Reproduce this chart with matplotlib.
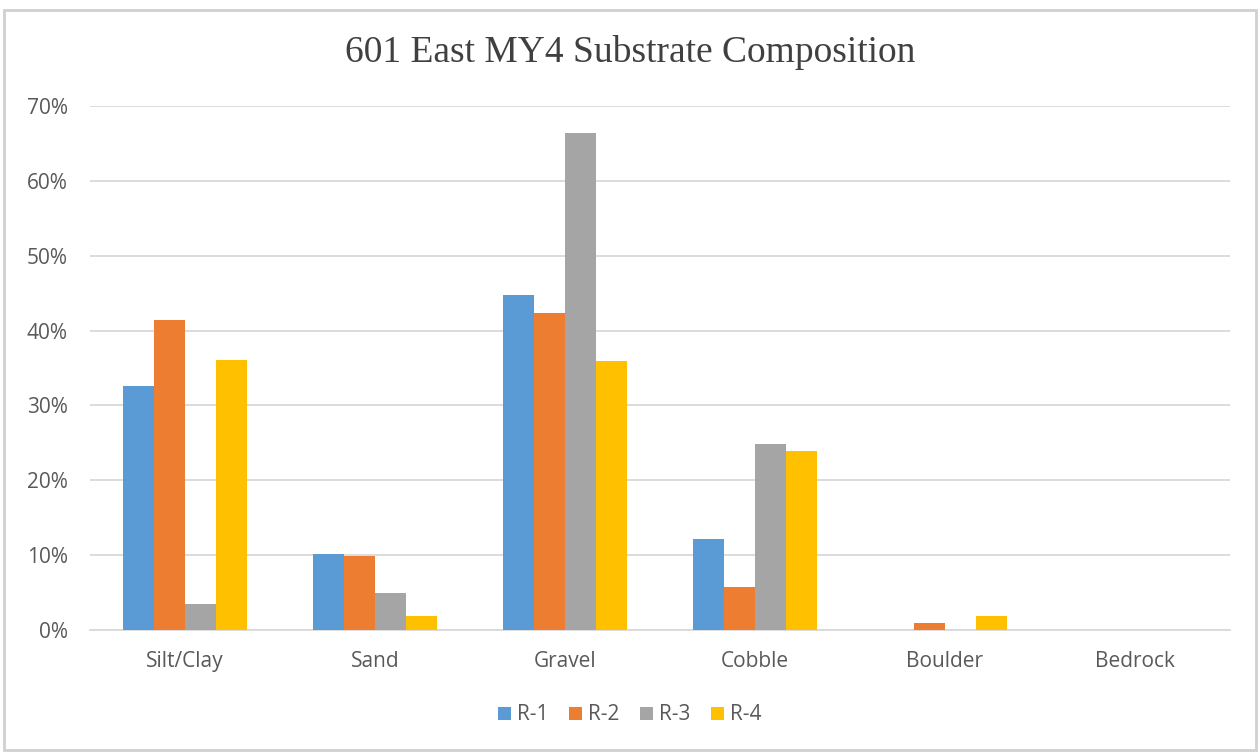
import numpy as np
import matplotlib
matplotlib.use('Agg')
import matplotlib.pyplot as plt
from matplotlib.patches import Rectangle
from matplotlib.ticker import FuncFormatter

categories = ['Silt/Clay', 'Sand', 'Gravel', 'Cobble', 'Boulder', 'Bedrock']
series_names = ['R-1', 'R-2', 'R-3', 'R-4']
r1 = [32.6, 10.2, 44.8, 12.1, 0.0, 0.0]
r2 = [41.4, 9.9, 42.4, 5.8, 1.0, 0.0]
r3 = [3.5, 5.0, 66.4, 24.8, 0.0, 0.0]
r4 = [36.1, 1.9, 36.0, 23.9, 1.9, 0.0]
colors = ['#5B9BD5', '#ED7D31', '#A5A5A5', '#FFC000']

fig = plt.figure(figsize=(12.6, 7.54), dpi=100)
ax = fig.add_axes([90 / 1260, 1 - 630 / 754, 1140 / 1260, 524 / 754])

# thin gray frame around the whole chart
fig.patches.append(Rectangle((4 / 1260, 0.005), 1 - 8 / 1260, 1 - 14 / 754,
                             transform=fig.transFigure, fill=False,
                             edgecolor='#d0d0d0', linewidth=2))

x = np.arange(len(categories))
w = 0.1625
for i, (vals, name) in enumerate(zip([r1, r2, r3, r4], series_names)):
    ax.bar(x + (i - 1.5) * w, vals, width=w, color=colors[i], label=name, zorder=3)

ax.set_xlim(-0.5, len(categories) - 0.5)
ax.set_ylim(0, 70)
ax.set_yticks(range(0, 71, 10))
ax.yaxis.set_major_formatter(FuncFormatter(lambda v, p: f'{int(v)}%'))
ax.set_xticks(x)
ax.set_xticklabels(categories)
ax.grid(axis='y', color='#d9d9d9', linewidth=1.3, zorder=0)
for s in ['top', 'right', 'left']:
    ax.spines[s].set_visible(False)
ax.spines['bottom'].set_color('#d9d9d9')
ax.spines['bottom'].set_linewidth(1.3)
ax.tick_params(axis='both', length=0, labelsize=15, colors='#595959', pad=15)
ax.tick_params(axis='y', pad=16)
for lbl in ax.get_xticklabels() + ax.get_yticklabels():
    lbl.set_family('Open Sans')

fig.text(0.5, 1 - 52 / 754, '601 East MY4 Substrate Composition', ha='center', va='center',
         fontsize=27, family='Liberation Serif', color='#404040')

leg = fig.legend(loc='center', bbox_to_anchor=(0.5, 1 - 715 / 754), ncol=4, frameon=False,
                 handlelength=0.6, handleheight=0.6, handletextpad=0.3, columnspacing=1.0,
                 prop={'family': 'Open Sans', 'size': 15})
for t in leg.get_texts():
    t.set_color('#595959')

fig.savefig('out.png', dpi=100, facecolor='white')
